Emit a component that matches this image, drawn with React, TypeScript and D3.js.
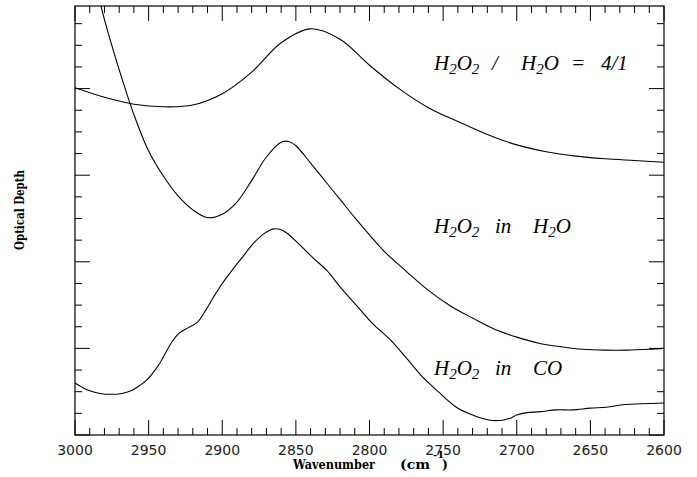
import React from "react";
import * as d3 from "d3";

// Wavenumber (cm^-1) and optical depth (arbitrary units, 1 unit = 1 major tick)
const wnRatio = [3000, 2980, 2960, 2940, 2920, 2900, 2880, 2860, 2840, 2820, 2800, 2780, 2760, 2740, 2720, 2700, 2680, 2660, 2640, 2620, 2600];
const odRatio = [4.01, 3.9, 3.82, 3.79, 3.81, 3.94, 4.19, 4.53, 4.69, 4.57, 4.27, 4.0, 3.78, 3.62, 3.47, 3.35, 3.27, 3.22, 3.19, 3.17, 3.15];

const wnWater = [2990, 2982, 2975, 2968, 2960, 2950, 2940, 2930, 2920, 2910, 2900, 2890, 2880, 2870, 2860, 2855, 2850, 2840, 2830, 2820, 2810, 2800, 2790, 2775, 2760, 2745, 2730, 2715, 2700, 2685, 2670, 2655, 2640, 2625, 2610, 2600];
const odWater = [5.59, 4.93, 4.5, 4.11, 3.7, 3.28, 2.99, 2.76, 2.6, 2.51, 2.55, 2.69, 2.94, 3.21, 3.38, 3.39, 3.34, 3.14, 2.93, 2.72, 2.51, 2.31, 2.12, 1.89, 1.67, 1.49, 1.35, 1.22, 1.13, 1.06, 1.02, 0.99, 0.98, 0.98, 0.99, 1.0];

const wnCO = [3000, 2995, 2990, 2983, 2976, 2968, 2962, 2957, 2951, 2946, 2942, 2934, 2929, 2923, 2917, 2912, 2906, 2900, 2893, 2886, 2879, 2872, 2865, 2860, 2856, 2847, 2838, 2829, 2820, 2808, 2798, 2786, 2775, 2764, 2752, 2741, 2730, 2718, 2710, 2705, 2700, 2696, 2684, 2673, 2662, 2650, 2639, 2628, 2616, 2600];
const odCO = [0.6, 0.55, 0.51, 0.48, 0.47, 0.48, 0.51, 0.56, 0.64, 0.74, 0.84, 1.08, 1.18, 1.24, 1.3, 1.42, 1.59, 1.75, 1.91, 2.06, 2.21, 2.32, 2.38, 2.37, 2.33, 2.19, 2.04, 1.9, 1.71, 1.48, 1.29, 1.1, 0.89, 0.67, 0.48, 0.32, 0.23, 0.17, 0.17, 0.19, 0.23, 0.25, 0.27, 0.29, 0.29, 0.31, 0.32, 0.35, 0.36, 0.37];

const xTickLabels = [3000, 2950, 2900, 2850, 2800, 2750, 2700, 2650, 2600];

const W = 697;
const H = 477;
const L = 75, R = 664, T = 6, B = 435;

function Chem({ x, y, parts }: { x: number; y: number; parts: string }) {
  // render a formula like "H_2O_2" with subscripts
  const tokens = parts.split(/(_\d)/).filter((s) => s.length);
  const out: React.ReactNode[] = [];
  let lowered = false;
  tokens.forEach((tok, i) => {
    if (tok.startsWith("_")) {
      out.push(
        <tspan key={i} fontSize={15} dy={lowered ? 0 : 4}>
          {tok.slice(1)}
        </tspan>
      );
      lowered = true;
    } else {
      out.push(
        <tspan key={i} dy={lowered ? -4 : 0}>
          {tok}
        </tspan>
      );
      lowered = false;
    }
  });
  return (
    <text x={x} y={y}>
      {out}
    </text>
  );
}

export default function App() {
  const x = d3.scaleLinear().domain([3000, 2600]).range([L, R]);
  const y = d3.scaleLinear().domain([0, (B - T) / 86.6]).range([B, T]);

  const line = d3
    .line<[number, number]>()
    .x((d) => x(d[0]))
    .y((d) => y(d[1]))
    .curve(d3.curveCatmullRom.alpha(0.5));

  const series = [
    wnRatio.map((w, i) => [w, odRatio[i]] as [number, number]),
    wnWater.map((w, i) => [w, odWater[i]] as [number, number]),
    wnCO.map((w, i) => [w, odCO[i]] as [number, number]),
  ];

  const xTicks = d3.range(2600, 3001, 10);
  const yTicks = d3.range(0, y.domain()[1], 0.25);

  return (
    <svg
      width={W}
      height={H}
      style={{ position: "absolute", left: 0, top: 0, background: "#fff" }}
    >
      <defs>
        <clipPath id="plot">
          <rect x={L} y={T} width={R - L} height={B - T} />
        </clipPath>
      </defs>
      <rect x={0} y={0} width={W} height={H} fill="#fff" />

      {/* curves */}
      <g clipPath="url(#plot)" fill="none" stroke="#000" strokeWidth={1.1}>
        {series.map((s, i) => (
          <path key={i} d={line(s) || ""} />
        ))}
      </g>

      {/* frame */}
      <rect x={L} y={T} width={R - L} height={B - T} fill="none" stroke="#000" strokeWidth={1.2} />

      {/* ticks */}
      <g stroke="#000" strokeWidth={1}>
        {xTicks.map((t) => {
          const major = t % 50 === 0;
          const len = major ? 15 : 7;
          const px = x(t);
          return (
            <g key={t}>
              <line x1={px} x2={px} y1={B} y2={B - len} />
              <line x1={px} x2={px} y1={T} y2={T + len} />
            </g>
          );
        })}
        {yTicks.map((t) => {
          const major = Math.abs(t - Math.round(t)) < 1e-6;
          const len = major ? 15 : 7;
          const py = y(t);
          return (
            <g key={t}>
              <line x1={L} x2={L + len} y1={py} y2={py} />
              <line x1={R} x2={R - len} y1={py} y2={py} />
            </g>
          );
        })}
      </g>

      {/* x tick labels */}
      <g fontFamily="DejaVu Sans" fontSize={14} textAnchor="middle" fill="#222">
        {xTickLabels.map((t) => (
          <text key={t} x={x(t)} y={455}>
            {t}
          </text>
        ))}
      </g>

      {/* axis titles */}
      <g fontFamily="DejaVu Serif" fill="#000" fontWeight="bold">
        <text x={293} y={469} fontSize={12.5} textLength={82} lengthAdjust="spacingAndGlyphs">
          Wavenumber
        </text>
        <text x={400} y={469} fontSize={12.5} textLength={30} lengthAdjust="spacingAndGlyphs">
          (cm
        </text>
        <text x={433} y={458} fontSize={10}>
          -1
        </text>
        <text x={442} y={469} fontSize={12.5}>
          )
        </text>
        <text
          transform="translate(24,210) rotate(-90)"
          textAnchor="middle"
          fontSize={12}
          textLength={80}
          lengthAdjust="spacingAndGlyphs"
        >
          Optical Depth
        </text>
      </g>

      {/* curve labels */}
      <g fontFamily="Liberation Serif" fontStyle="italic" fontSize={21} fill="#000">
        <Chem x={434} y={70} parts="H_2O_2" />
        <text x={492} y={70}>/</text>
        <Chem x={521} y={70} parts="H_2O" />
        <text x={571} y={70}>=</text>
        <text x={601} y={70}>4/1</text>

        <Chem x={434} y={233} parts="H_2O_2" />
        <text x={495} y={233}>in</text>
        <Chem x={533} y={233} parts="H_2O" />

        <Chem x={434} y={375} parts="H_2O_2" />
        <text x={495} y={375}>in</text>
        <text x={533} y={375}>CO</text>
      </g>
    </svg>
  );
}
